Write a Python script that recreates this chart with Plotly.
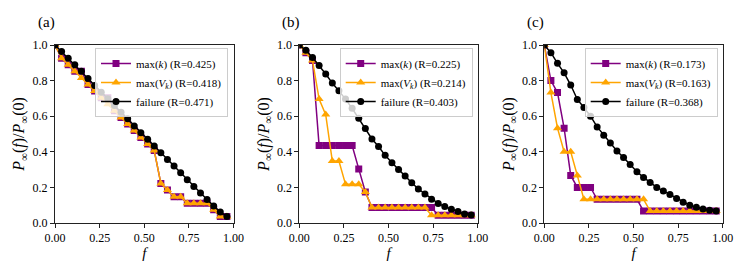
import plotly.graph_objects as go

# fraction of removed nodes
f_vals = [0.000, 0.037, 0.074, 0.111, 0.148, 0.185, 0.222, 0.259, 0.296, 0.333,
          0.370, 0.407, 0.444, 0.481, 0.519, 0.556, 0.593, 0.630, 0.667, 0.704,
          0.741, 0.778, 0.815, 0.852, 0.889, 0.926, 0.963]

# panel (a)
a_maxk = [1.0, 0.926, 0.889, 0.852, 0.852, 0.778, 0.741, 0.704, 0.704, 0.630,
          0.593, 0.556, 0.519, 0.481, 0.444, 0.407, 0.222, 0.185, 0.148, 0.148,
          0.111, 0.111, 0.111, 0.111, 0.074, 0.037, 0.037]
a_maxv = [1.0, 0.926, 0.889, 0.852, 0.815, 0.778, 0.741, 0.704, 0.667, 0.630,
          0.593, 0.556, 0.519, 0.481, 0.444, 0.407, 0.222, 0.185, 0.148, 0.148,
          0.111, 0.111, 0.111, 0.111, 0.074, 0.037, 0.037]
a_fail = [1.0, 0.963, 0.926, 0.889, 0.852, 0.812, 0.772, 0.735, 0.698, 0.660,
          0.622, 0.585, 0.545, 0.507, 0.470, 0.432, 0.395, 0.357, 0.320, 0.282,
          0.243, 0.205, 0.168, 0.132, 0.096, 0.062, 0.037]

# panel (b)
b_maxk = [1.0, 0.957, 0.913, 0.435, 0.435, 0.435, 0.435, 0.435, 0.435, 0.304,
          0.174, 0.087, 0.087, 0.087, 0.087, 0.087, 0.087, 0.087, 0.087, 0.087,
          0.087, 0.043, 0.043, 0.043, 0.043, 0.043, 0.043]
b_maxv = [1.0, 0.957, 0.913, 0.696, 0.609, 0.348, 0.348, 0.217, 0.217, 0.217,
          0.174, 0.087, 0.087, 0.087, 0.087, 0.087, 0.087, 0.087, 0.087, 0.087,
          0.043, 0.043, 0.043, 0.043, 0.043, 0.043, 0.043]
b_fail = [1.0, 0.970, 0.930, 0.885, 0.837, 0.786, 0.743, 0.696, 0.644, 0.588,
          0.531, 0.472, 0.430, 0.380, 0.339, 0.300, 0.264, 0.226, 0.191, 0.163,
          0.133, 0.110, 0.092, 0.077, 0.064, 0.051, 0.045]

# panel (c)
c_maxk = [1.0, 0.800, 0.733, 0.533, 0.267, 0.200, 0.200, 0.200, 0.133, 0.133,
          0.133, 0.133, 0.133, 0.133, 0.133, 0.067, 0.067, 0.067, 0.067, 0.067,
          0.067, 0.067, 0.067, 0.067, 0.067, 0.067, 0.067]
c_maxv = [1.0, 0.733, 0.533, 0.400, 0.400, 0.267, 0.133, 0.133, 0.133, 0.133,
          0.133, 0.133, 0.133, 0.133, 0.133, 0.133, 0.067, 0.067, 0.067, 0.067,
          0.067, 0.067, 0.067, 0.067, 0.067, 0.067, 0.067]
c_fail = [1.0, 0.957, 0.897, 0.844, 0.775, 0.694, 0.649, 0.600, 0.540, 0.493,
          0.450, 0.405, 0.368, 0.328, 0.288, 0.256, 0.227, 0.200, 0.180, 0.160,
          0.137, 0.117, 0.100, 0.088, 0.079, 0.072, 0.067]

panel_labels = ["(a)", "(b)", "(c)"]
R_maxk = ["0.425", "0.225", "0.173"]
R_maxv = ["0.418", "0.214", "0.163"]
R_fail = ["0.471", "0.403", "0.368"]

x_ticks = [0.0, 0.25, 0.5, 0.75, 1.0]
x_ticktext = ["0.00", "0.25", "0.50", "0.75", "1.00"]
y_ticks = [0.0, 0.2, 0.4, 0.6, 0.8, 1.0]
y_ticktext = ["0.0", "0.2", "0.4", "0.6", "0.8", "1.0"]

panels = [(a_maxk, a_maxv, a_fail), (b_maxk, b_maxv, b_fail), (c_maxk, c_maxv, c_fail)]

# page offset of the default body margin
OFF = 8
W, H = 747 - OFF, 274 - OFF
ML, MT, PH = 55 - OFF, 45 - OFF, 178
MR = 24
MB = H - MT - PH
PW = W - ML - MR
px_left = [55, 299.3, 544.3]          # page coordinates of each panel's left edge
px_w = 178.5
legend_right_px = [228, 472.7, 717.7]
legend_top_px = 48

FONT = "Liberation Serif"
PURPLE = "#800080"
ORANGE = "#FFA500"


def paper_x(px):
    return (px - OFF - ML) / PW


def paper_y(py):
    return (MT + PH - (py - OFF)) / PH


fig = go.Figure()
for i, (mk, mv, fl) in enumerate(panels):
    sfx = "" if i == 0 else str(i + 1)
    xa = "x" + sfx
    ya = "y" + sfx
    lg = "legend" + sfx
    fig.add_trace(go.Scatter(x=f_vals, y=mk, mode="lines+markers", xaxis=xa, yaxis=ya,
                             name="max(<i>k</i>) (R=" + R_maxk[i] + ")", legend=lg,
                             line=dict(color=PURPLE, width=1.5),
                             marker=dict(symbol="square", size=7, color=PURPLE)))
    fig.add_trace(go.Scatter(x=f_vals, y=mv, mode="lines+markers", xaxis=xa, yaxis=ya,
                             name="max(<i>V</i><sub><i>k</i></sub>) (R=" + R_maxv[i] + ")", legend=lg,
                             line=dict(color=ORANGE, width=1.5),
                             marker=dict(symbol="triangle-up", size=8, color=ORANGE)))
    fig.add_trace(go.Scatter(x=f_vals, y=fl, mode="lines+markers", xaxis=xa, yaxis=ya,
                             name="failure (R=" + R_fail[i] + ")", legend=lg,
                             line=dict(color="black", width=1.5),
                             marker=dict(symbol="circle", size=7, color="black")))

    d0 = paper_x(px_left[i])
    d1 = paper_x(px_left[i] + px_w)
    axis_common = dict(showline=True, mirror=True, linecolor="#222", linewidth=1,
                       ticks="outside", ticklen=4, tickwidth=1, tickcolor="#222",
                       showgrid=False, zeroline=False, automargin=False,
                       tickfont=dict(family=FONT, size=12, color="black"))
    fig.layout["xaxis" + sfx] = dict(domain=[d0, min(d1, 1.0)], range=[0, 1], anchor=ya,
                                     tickvals=x_ticks, ticktext=x_ticktext,
                                     title=dict(text="<i>f</i>", font=dict(family=FONT, size=15, color="black"), standoff=1),
                                     **axis_common)
    fig.layout["yaxis" + sfx] = dict(domain=[0, 1], range=[0, 1], anchor=xa,
                                     tickvals=y_ticks, ticktext=y_ticktext,
                                     title=dict(text="<i>P</i><sub>∞</sub>(<i>f</i>)/<i>P</i><sub>∞</sub>(0)",
                                                font=dict(family=FONT, size=16, color="black"), standoff=3),
                                     **axis_common)
    fig.layout[lg] = dict(x=paper_x(legend_right_px[i]), y=paper_y(legend_top_px),
                          xanchor="right", yanchor="top", xref="paper", yref="paper",
                          bgcolor="rgba(255,255,255,0.8)", bordercolor="#cccccc", borderwidth=1,
                          font=dict(family=FONT, size=11, color="black"),
                          tracegroupgap=0, itemwidth=30)
    fig.add_annotation(text=panel_labels[i], xref="paper", yref="paper",
                       x=paper_x(px_left[i] - 19), y=paper_y(23),
                       xanchor="left", yanchor="middle", showarrow=False,
                       font=dict(family=FONT, size=15, color="black"))

fig.update_layout(width=W, height=H, margin=dict(l=ML, r=MR, t=MT, b=MB, autoexpand=False),
                  plot_bgcolor="white", paper_bgcolor="white", showlegend=True)

fig.write_html("out.html")
